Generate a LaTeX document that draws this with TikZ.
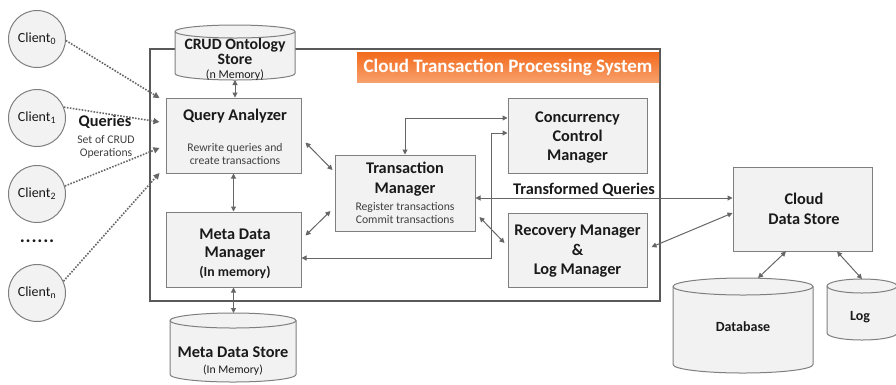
\documentclass[tikz,border=0pt]{standalone}
\usepackage{fontspec}
\setmainfont{Carlito}
\usetikzlibrary{arrows.meta,calc}
\definecolor{boxfill}{HTML}{F2F2F2}
\definecolor{boxline}{HTML}{7F7F7F}
\definecolor{arr}{HTML}{666666}
\definecolor{frame}{HTML}{595959}
\definecolor{orA}{HTML}{F26A1B}
\definecolor{orB}{HTML}{F8A06C}
\definecolor{txt}{HTML}{1A1A1A}
\definecolor{stxt}{HTML}{404040}
\tikzset{
  box/.style={draw=boxline, fill=boxfill, line width=1pt, inner sep=0pt},
  hd/.style={font=\fontsize{16.3}{19.5}\selectfont\bfseries, text=txt, align=center, inner sep=0pt},
  sm/.style={font=\fontsize{11.7}{13}\selectfont, text=stxt, align=center, inner sep=0pt},
  client/.style={circle, draw=boxline, fill=boxfill, line width=1pt, minimum size=57pt, inner sep=0pt,
     font=\fontsize{14}{16}\selectfont, text=txt},
  conn/.style={draw=arr, line width=1pt, {Triangle[length=5pt,width=5pt]}-{Triangle[length=5pt,width=5pt]}},
  dotc/.style={draw=arr, line width=1.6pt, dash pattern=on 1.6pt off 1.4pt, -{Triangle[length=6pt,width=6pt]}},
  cylbody/.style={draw=boxline, fill=boxfill, line width=1pt},
  anchorbox/.style={inner sep=0pt, outer sep=0pt}
}
% cylinder: cx, top y, bottom y, rx, ry
\newcommand\drawcyl[5]{%
  \path[cylbody] (#1-#4,#2+#5) -- (#1-#4,#3-#5)
     arc[start angle=180, end angle=0, x radius=#4, y radius=#5]
     -- (#1+#4,#2+#5)
     arc[start angle=0, end angle=-180, x radius=#4, y radius=#5] -- cycle;
  \draw[draw=boxline, line width=1pt] (#1-#4,#2+#5)
     arc[start angle=180, end angle=0, x radius=#4, y radius=#5];
}
\begin{document}
\begin{tikzpicture}[x=1pt,y=-1pt]
\useasboundingbox (0,0) rectangle (896,384);

% system frame
\draw[draw=frame, line width=1.2pt] (150,49) rectangle (660,301);
\shade[top color=orA, bottom color=orB] (357,52) rectangle (659,82);
\node[font=\fontsize{19}{21}\selectfont\bfseries, text=white, inner sep=0pt] (title) at (508,67) {Cloud Transaction Processing System};

% CRUD store
\drawcyl{235}{25}{80}{60}{6.5}
\node[anchorbox, minimum width=120pt, minimum height=55pt] (crud) at (235,52.5) {};
\node[hd, font=\fontsize{15.8}{11.5}\selectfont\bfseries] (crudt) at (235,51.5) {CRUD Ontology\\Store};
\node[font=\fontsize{12}{13}\selectfont, text=txt, inner sep=0pt] (crudm) at (235,75.5) {(n Memory)};

% Meta data store
\drawcyl{233}{313}{382}{63}{7.5}
\node[anchorbox, minimum width=126pt, minimum height=69pt] (mds) at (233,347.5) {};
\node[hd] (mdst) at (233,352) {Meta Data Store};
\node[sm, text=txt] (mdsm) at (233,370) {(In Memory)};

% Database and Log
\drawcyl{743}{278}{373}{70}{8.5}
\node[anchorbox, minimum width=140pt, minimum height=95pt] (db) at (743,325.5) {};
\node[font=\fontsize{14}{16}\selectfont\bfseries, text=txt, inner sep=0pt] (dbt) at (743,327) {Database};
\drawcyl{862}{279}{340}{35}{7}
\node[anchorbox, minimum width=70pt, minimum height=61pt] (log) at (862,309.5) {};
\node[font=\fontsize{14}{16}\selectfont\bfseries, text=txt, inner sep=0pt] (logt) at (860,317) {Log};

% boxes
\node[box, minimum width=135pt, minimum height=75pt] (qa) at (233.5,135.5) {};
\node[hd] (qat) at (235,116) {Query Analyzer};
\node[sm] (qas) at (235,153.5) {Rewrite queries and\\create transactions};

\node[box, minimum width=135pt, minimum height=75pt] (mdm) at (233.5,249.5) {};
\node[hd, font=\fontsize{16.3}{18}\selectfont\bfseries] (mdmt) at (235,245) {Meta Data\\Manager};
\node[font=\fontsize{13.8}{15}\selectfont\bfseries, text=txt, inner sep=0pt] (mdmm) at (235,272) {(In memory)};

\node[box, minimum width=140pt, minimum height=76pt] (tm) at (405,193) {};
\node[hd, font=\fontsize{16.3}{20}\selectfont\bfseries] (tmt) at (405,179) {Transaction\\Manager};
\node[sm] (tms) at (405,212.5) {Register transactions\\Commit transactions};

\node[box, minimum width=139pt, minimum height=75pt] (ccm) at (577.5,135.5) {};
\node[hd, font=\fontsize{16.3}{19}\selectfont\bfseries] (ccmt) at (577.5,138) {Concurrency\\Control\\Manager};

\node[box, minimum width=139pt, minimum height=74pt] (rm) at (577.5,250) {};
\node[hd, font=\fontsize{16.3}{19.5}\selectfont\bfseries] (rmt) at (577.5,251.5) {Recovery Manager\\\&\\Log Manager};

\node[box, minimum width=139pt, minimum height=84pt] (cds) at (802.5,209) {};
\node[hd, font=\fontsize{16.3}{20}\selectfont\bfseries] (cdst) at (804,209) {Cloud\\Data Store};

% clients
\node[client] (c0) at (37,39) {Client\textsubscript{0}};
\node[client] (c1) at (37,118) {Client\textsubscript{1}};
\node[client] (c2) at (37,194) {Client\textsubscript{2}};
\node[client] (cn) at (37,293) {Client\textsubscript{n}};
\node[font=\fontsize{19}{20}\selectfont\bfseries, text=txt, inner sep=0pt] (dots) at (37,241) {.\kern0.8pt.\kern0.8pt.\kern0.8pt.\kern0.8pt.\kern0.8pt.};

\node[hd] (qlab) at (105,122) {Queries};
\node[sm] (qsub) at (106,146.5) {Set of CRUD\\Operations};

% dotted client connectors
\draw[dotc] (c0.-3) -- ($(qa.west)+(-6,-37.5)$);
\draw[dotc] (c1.22) -- ($(qa.west)+(-6,-13.5)$);
\draw[dotc] (c2.16) -- ($(qa.west)+(-6,12.5)$);
\draw[dotc] (cn.24) -- ($(qa.west)+(-6,37.5)$);

% connectors
\draw[conn] (crud.south) -- (crud.south |- qa.north);
\draw[conn] (qa.south) -- (mdm.north);
\draw[conn] (mdm.south) -- (mdm.south |- mds.north);
\draw[conn] ($(qa.east)+(4,7)$) -- ($(tm.west)+(-2,-23)$);
\draw[conn] ($(mdm.east)+(4,-14)$) -- ($(tm.west)+(-4,18)$);
\draw[conn] (tm.north) |- ($(ccm.west)+(0,-17.5)$);
\draw[conn] ($(ccm.west)+(0,-2.5)$) -- ++(-16,0) |- ($(mdm.east)+(0,8.5)$);
\draw[conn] ($(tm.east)+(0,5)$) -- ($(cds.west)+(0,-11)$);
\draw[conn] ($(tm.east)+(4,24)$) -- ($(rm.west)+(-3,-7)$);
\draw[conn] ($(rm.east)+(4,-3)$) -- ($(cds.west)+(0,4)$);
\draw[conn] ($(cds.south)+(-16.5,0)$) -- ($(db.north)+(15,0)$);
\draw[conn] ($(cds.south)+(34.5,0)$) -- (log.north);

\node[hd] (tq) at (584,190) {Transformed Queries};
\end{tikzpicture}
\end{document}
